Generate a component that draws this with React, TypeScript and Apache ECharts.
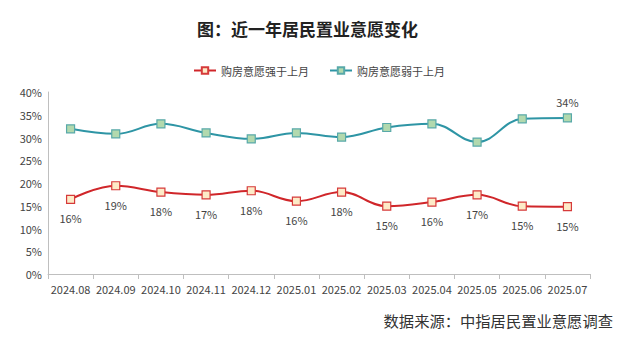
import React, { useEffect, useRef } from "react";
import * as echarts from "echarts";

const categories = [
  "2024.08", "2024.09", "2024.10", "2024.11", "2024.12", "2025.01",
  "2025.02", "2025.03", "2025.04", "2025.05", "2025.06", "2025.07",
];
const strongerValues = [16.4, 19.4, 18.0, 17.4, 18.3, 16.0, 18.0, 14.9, 15.8, 17.4, 14.9, 14.8];
const weakerValues = [31.9, 30.8, 33.0, 31.0, 29.7, 31.0, 30.1, 32.2, 33.0, 29.0, 34.1, 34.3];
const seriesNames = ["购房意愿强于上月", "购房意愿弱于上月"];
const yTicks = { min: 0, max: 40, interval: 5 };

const FONT = '"Noto Sans CJK SC", "Noto Sans", sans-serif';

export default function App() {
  const ref = useRef<HTMLDivElement>(null);
  useEffect(() => {
    if (!ref.current) return;
    const chart = echarts.init(ref.current, undefined, { renderer: "svg" });
    chart.setOption({
      animation: false,
      backgroundColor: "#ffffff",
      textStyle: { fontFamily: FONT },
      title: {
        text: "图：近一年居民置业意愿变化",
        left: 192,
        top: 15,
        textStyle: { fontSize: 17, fontWeight: "bold", color: "#222", fontFamily: FONT },
      },
      legend: {
        top: 60,
        left: 188,
        itemGap: 20,
        itemWidth: 22,
        itemHeight: 8,
        textStyle: { fontSize: 11, color: "#444", fontFamily: FONT },
        data: seriesNames,
      },
      graphic: [
        {
          type: "text",
          right: 21,
          top: 312,
          style: {
            text: "数据来源：中指居民置业意愿调查",
            fontSize: 15.3,
            fill: "#333",
            fontFamily: FONT,
          },
        },
      ],
      grid: { left: 48, right: 44, top: 92, bottom: 67, containLabel: false },
      xAxis: {
        type: "category",
        data: categories,
        boundaryGap: true,
        axisLine: { lineStyle: { color: "#bfbfbf" } },
        axisTick: { show: true, lineStyle: { color: "#bfbfbf" } },
        axisLabel: { fontSize: 11, color: "#444", margin: 9, interval: 0, fontFamily: FONT },
      },
      yAxis: {
        type: "value",
        min: yTicks.min,
        max: yTicks.max,
        interval: yTicks.interval,
        axisLine: { show: true, lineStyle: { color: "#bfbfbf" } },
        axisTick: { show: false },
        splitLine: { show: false },
        axisLabel: { formatter: "{value}%", fontSize: 11, color: "#444", margin: 6, fontFamily: FONT },
      },
      series: [
        {
          name: seriesNames[0],
          type: "line",
          data: strongerValues,
          smooth: 0.4,
          symbol: "rect",
          symbolSize: 8,
          lineStyle: { color: "#d0262a", width: 2 },
          itemStyle: { color: "#fdebc8", borderColor: "#d63a3a", borderWidth: 1.2 },
          label: {
            show: true,
            position: "bottom",
            distance: 9,
            fontSize: 11,
            color: "#444",
            fontFamily: FONT,
            formatter: (p: any) => Math.round(p.value) + "%",
          },
        },
        {
          name: seriesNames[1],
          type: "line",
          data: weakerValues,
          smooth: 0.4,
          symbol: "rect",
          symbolSize: 8,
          lineStyle: { color: "#2e95a5", width: 2 },
          itemStyle: { color: "#b2d9ae", borderColor: "#58a9a9", borderWidth: 1.2 },
          label: {
            show: true,
            position: "top",
            distance: 6,
            fontSize: 11,
            color: "#444",
            fontFamily: FONT,
            formatter: (p: any) =>
              p.dataIndex === weakerValues.length - 1 ? Math.round(p.value) + "%" : "",
          },
        },
      ],
    });
    return () => chart.dispose();
  }, []);
  return <div ref={ref} style={{ width: 634, height: 341, marginLeft: -8, marginTop: -8 }} />;
}
